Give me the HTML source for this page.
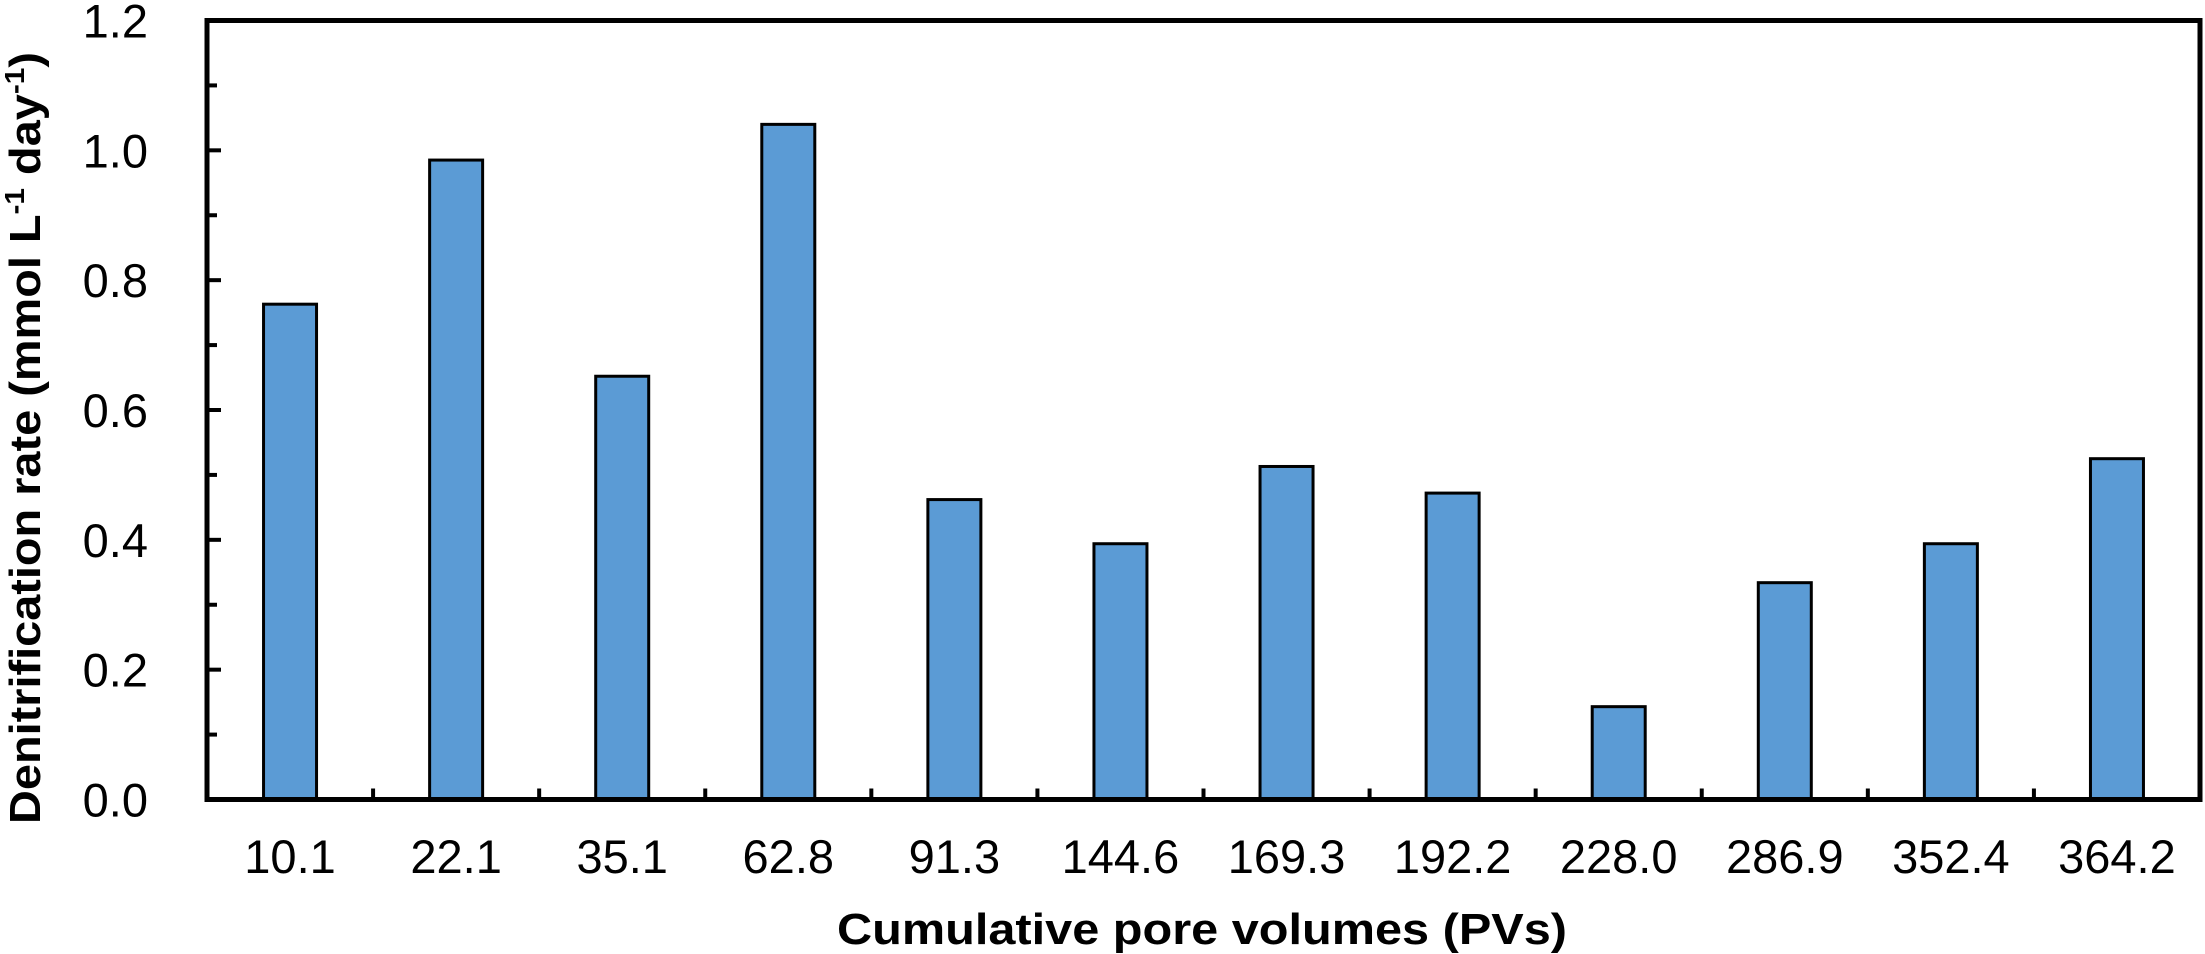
<!DOCTYPE html>
<html><head><meta charset="utf-8"><style>html,body{margin:0;padding:0;background:#fff}svg{display:block}</style></head>
<body>
<svg width="2205" height="954" viewBox="0 0 2205 954" xmlns="http://www.w3.org/2000/svg" font-family="Liberation Sans, Arial, sans-serif">
<rect width="2205" height="954" fill="#fff"/>
<g id="bars" fill="#5B9BD5" stroke="#000" stroke-width="3"></g>
<g id="ticks" stroke="#000" stroke-width="4"></g>
<rect x="207" y="20.5" width="1993" height="779" fill="none" stroke="#000" stroke-width="5"/>
<g id="ylab" font-size="47" text-anchor="end" fill="#000"></g>
<g id="xlab" font-size="47" text-anchor="middle" fill="#000"></g>
<text x="1202" y="944" font-size="44" font-weight="bold" text-anchor="middle" textLength="730" lengthAdjust="spacingAndGlyphs">Cumulative pore volumes (PVs)</text>
<text transform="translate(40,438) rotate(-90)" font-size="44" font-weight="bold" text-anchor="middle" textLength="772" lengthAdjust="spacingAndGlyphs">Denitrification rate (mmol L<tspan font-size="28" dy="-16">-1</tspan><tspan dy="16"> day</tspan><tspan font-size="28" dy="-16">-1</tspan><tspan dy="16">)</tspan></text>
<script>
var ns="http://www.w3.org/2000/svg";
function el(p,t,a,txt){var e=document.createElementNS(ns,t);for(var k in a)e.setAttribute(k,a[k]);if(txt)e.textContent=txt;document.getElementById(p).appendChild(e);}
var vals=[0.763,0.985,0.652,1.04,0.462,0.394,0.513,0.472,0.143,0.334,0.394,0.525];
var labs=["10.1","22.1","35.1","62.8","91.3","144.6","169.3","192.2","228.0","286.9","352.4","364.2"];
var x0=207,y0=799.5,cw=1993/12,ppu=779/1.2;
for(var i=0;i<12;i++){var c=x0+cw*(i+0.5);var h=vals[i]*ppu;
el("bars","rect",{x:c-26.5,y:y0-h,width:53,height:h});
el("xlab","text",{x:c,y:873},labs[i]);
if(i>0)el("ticks","line",{x1:x0+cw*i,y1:y0,x2:x0+cw*i,y2:y0-11});}
for(var j=0;j<=12;j++){var y=y0-j*0.1*ppu;el("ticks","line",{x1:x0,y1:y,x2:x0+(j%2?10:14),y2:y});
if(j%2==0)el("ylab","text",{x:148,y:y+17},(j/10).toFixed(1));}
</script>
</svg>
</body></html>
